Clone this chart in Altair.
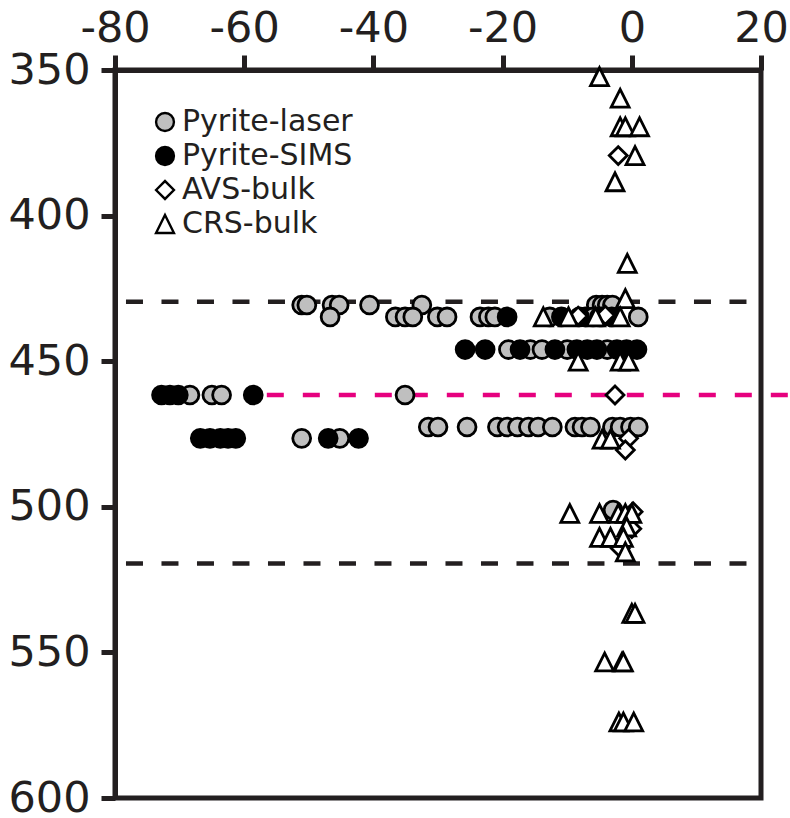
import altair as alt
import pandas as pd

# ---- data (x = value, y = depth) ----
laser_x = [-51.1, -50.3, -46.4, -45.3, -40.6, -32.5, -5.5, -4.6, -3.8, -3.0,
           -46.7, -36.6, -35.1, -33.9, -30.1, -28.6, -23.5, -22.2, -21.2, -12.7, -7.2, -6.0, -5.0, 1.0,
           -19.1, -15.7, -13.9, -10.0, -3.8,
           -68.4, -65.0, -63.5, -35.1,
           -31.5, -30.0, -25.5, -20.8, -19.3, -17.7, -16.0, -14.5, -12.3, -8.8, -7.7, -6.4, -3.0, -1.8, -0.2, 1.0,
           -51.1, -45.2,
           -2.9]
laser_y = [430.7] * 10 + [434.8] * 14 + [446.0] * 5 + [461.6] * 4 + [472.6] * 16 + [476.5] * 2 + [501.1]

sims_x = [-19.3, -10.9, -8.1, -4.6, -3.1,
          -25.8, -22.7, -17.3, -11.9, -8.5, -6.9, -5.4, -2.3, -0.8, 0.8,
          -72.8, -71.5, -70.2, -58.6,
          -66.8, -65.3, -63.7, -62.5, -61.3, -47.0, -42.3]
sims_y = [434.8] * 5 + [446.0] * 10 + [461.6] * 4 + [476.5] * 7

avs_x = [-2.1, -4.1, -8.3, -2.6, -0.5, -1.0, 0.2, 0.0, -1.8]
avs_y = [379.4, 434.2, 434.5, 461.6, 476.5, 480.5, 501.7, 507.5, 514.2]

crs_x = [-5.0, -1.8, -1.8, -1.0, 1.2, 0.5, -2.6, -0.7, -1.0,
         -13.7, -9.8, -5.6, -1.8, -8.3, -1.8, -0.5, -4.6, -3.3,
         -9.6, -5.0, -2.1, -1.0, 0.0, -0.8, -5.0, -3.3, -1.3, -1.0,
         0.0, 0.5, -4.2, -1.5, -1.3, -2.0, -1.3, 0.3]
crs_y = [352.3, 359.7, 369.5, 369.5, 369.5, 379.4, 388.4, 416.4, 428.5,
         434.8, 434.8, 434.8, 434.8, 450.0, 450.0, 450.0, 476.8, 476.8,
         502.3, 502.3, 502.3, 502.3, 502.3, 506.9, 510.5, 510.5, 510.5, 515.5,
         536.6, 536.6, 553.3, 553.3, 553.3, 573.9, 573.9, 573.9]

series = ["Pyrite-laser", "Pyrite-SIMS", "AVS-bulk", "CRS-bulk"]

black_lines_y = [429.6, 519.5]
black_lines_x = [-78.3, 18.4]
pink_line_y = [461.6]
pink_line_x = [-56.5, 25.0]

x_ticks = [-80, -60, -40, -20, 0, 20]
y_ticks = [350, 400, 450, 500, 550, 600]

rows = []
for name, xs, ys in zip(series, [laser_x, sims_x, avs_x, crs_x], [laser_y, sims_y, avs_y, crs_y]):
    for xv, yv in zip(xs, ys):
        rows.append({"x": xv, "y": yv, "type": name})
pts = pd.DataFrame(rows)

black_df = pd.DataFrame({"y": black_lines_y, "x": [black_lines_x[0]] * 2, "x2": [black_lines_x[1]] * 2})
pink_df = pd.DataFrame({"y": pink_line_y, "x": [pink_line_x[0]], "x2": [pink_line_x[1]]})

INK = "#231f20"
FONT = "DejaVu Sans"

xscale = alt.Scale(domain=[-80, 20], nice=False, zero=False)
yscale = alt.Scale(domain=[350, 600], nice=False, zero=False, reverse=True)

xaxis = alt.Axis(orient="top", values=x_ticks, title=None, grid=False,
                 labelExpr="datum.value + ''", labelFont=FONT, labelFontSize=43,
                 labelColor=INK, labelPadding=5, labelFlush=False, labelOverlap=False,
                 tickSize=15, tickWidth=5, tickColor=INK, domainWidth=5, domainColor=INK)
yaxis = alt.Axis(orient="left", values=y_ticks, title=None, grid=False,
                 labelExpr="datum.value + ''", labelFont=FONT, labelFontSize=43,
                 labelColor=INK, labelPadding=11, labelFlush=False, labelOverlap=False,
                 tickSize=14, tickWidth=5, tickColor=INK, domainWidth=5, domainColor=INK)

leg = alt.Legend(orient="none", legendX=35, legendY=37, title=None,
                 labelFont=FONT, labelFontSize=30, labelColor=INK, labelLimit=0,
                 rowPadding=4, labelOffset=2, padding=0,
                 symbolStrokeWidth=2.4, symbolOpacity=1)

points = alt.Chart(pts).mark_point(filled=True, strokeWidth=2.8, opacity=1).encode(
    x=alt.X("x:Q", scale=xscale, axis=xaxis),
    y=alt.Y("y:Q", scale=yscale, axis=yaxis),
    shape=alt.Shape("type:N", scale=alt.Scale(domain=series,
                    range=["circle", "circle", "diamond", "M0,-1L1,1L-1,1Z"]), legend=leg),
    fill=alt.Fill("type:N", scale=alt.Scale(domain=series,
                  range=["#bfbfbf", "#000000", "#ffffff", "#ffffff"]), legend=leg),
    stroke=alt.Stroke("type:N", scale=alt.Scale(domain=series,
                      range=["#000000", "#000000", "#000000", "#000000"]), legend=leg),
    size=alt.Size("type:N", scale=alt.Scale(domain=series, range=[320, 320, 185, 215]), legend=leg),
)

black_rules = alt.Chart(black_df).mark_rule(color=INK, strokeWidth=4.5, strokeDash=[17, 18.5]).encode(
    x=alt.X("x:Q", scale=xscale), x2="x2:Q", y=alt.Y("y:Q", scale=yscale)
)
pink_rule = alt.Chart(pink_df).mark_rule(color="#e6007e", strokeWidth=4.5, strokeDash=[17, 19]).encode(
    x=alt.X("x:Q", scale=xscale), x2="x2:Q", y=alt.Y("y:Q", scale=yscale)
)

chart = alt.layer(black_rules, pink_rule, points).properties(
    width=646, height=728,
    autosize=alt.AutoSizeParams(type="none"),
    padding={"left": 115, "top": 70, "right": 29, "bottom": 20},
    background="white",
).configure_view(stroke=INK, strokeWidth=5)

chart.save("out.html", embed_options={"renderer": "svg", "actions": False})
